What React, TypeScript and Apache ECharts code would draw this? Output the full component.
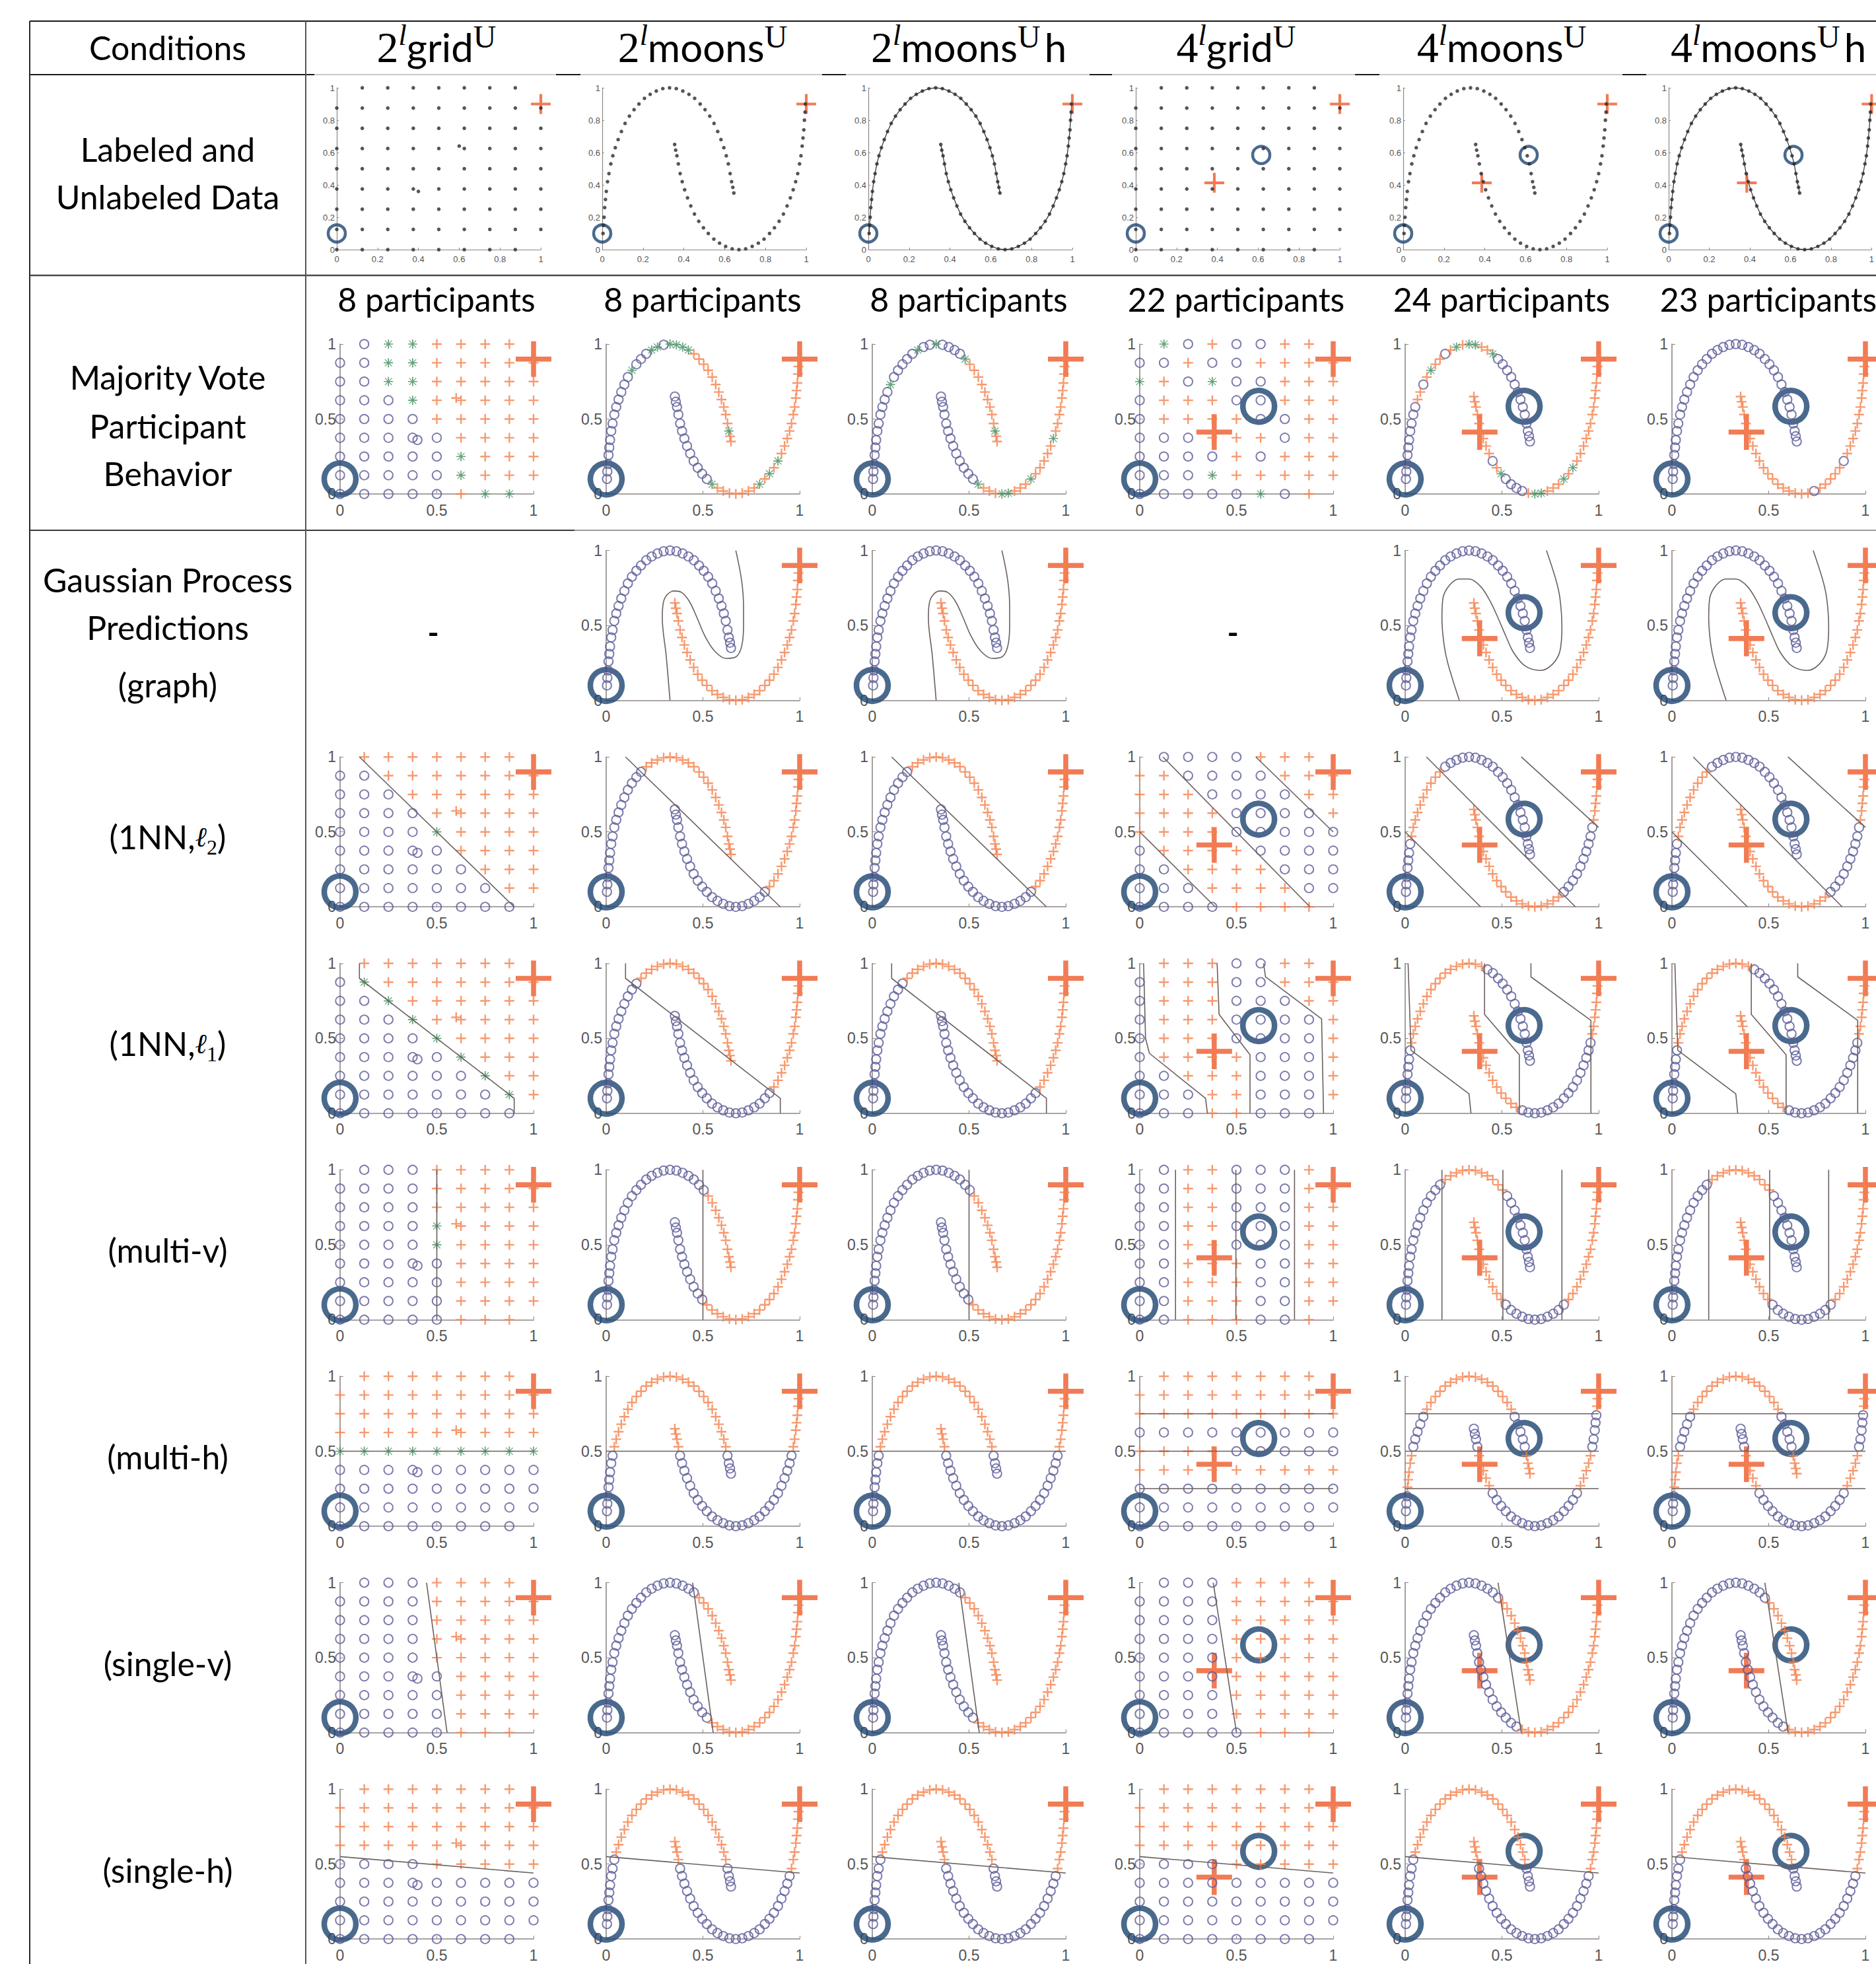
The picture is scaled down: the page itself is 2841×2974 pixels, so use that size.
import React, { useEffect, useRef } from "react";
import * as echarts from "echarts";

type Pt = [number, number];

// ---------------- DATA ----------------
const GRID_TICKS = [0, 0.125, 0.25, 0.375, 0.5, 0.625, 0.75, 0.875, 1];
const GRID_EXTRA_POINTS: Pt[] = [[0.4, 0.36], [0.6, 0.64]];
const GRID_PRESENT = [
  ".ooooooo.", "ooooooooo", "ooooooooo", "ooooooooo", "ooooooooo",
  "ooooooooo", "ooooooooo", "ooooooooo", "oooooooo.",
];

const UPPER_MOON: Pt[] = [
  [0.004, 0.10], [0.006, 0.15], [0.009, 0.20], [0.012, 0.26], [0.016, 0.31],
  [0.02, 0.36], [0.026, 0.42], [0.033, 0.47], [0.042, 0.53], [0.052, 0.58],
  [0.064, 0.63], [0.078, 0.68], [0.094, 0.73], [0.112, 0.78], [0.133, 0.825],
  [0.156, 0.865], [0.18, 0.90], [0.207, 0.935], [0.235, 0.96], [0.265, 0.98],
  [0.297, 0.995], [0.33, 1.0], [0.363, 0.995], [0.395, 0.98], [0.425, 0.96],
  [0.453, 0.935], [0.48, 0.90], [0.504, 0.865], [0.527, 0.825], [0.548, 0.78],
  [0.566, 0.73], [0.582, 0.68], [0.596, 0.63], [0.608, 0.58], [0.618, 0.53],
  [0.627, 0.47], [0.634, 0.42], [0.64, 0.385], [0.645, 0.35],
];
const LOWER_MOON: Pt[] = [
  [0.355, 0.65], [0.36, 0.615], [0.366, 0.58], [0.373, 0.53], [0.382, 0.47],
  [0.392, 0.42], [0.404, 0.37], [0.418, 0.32], [0.434, 0.27], [0.452, 0.22],
  [0.473, 0.175], [0.496, 0.135], [0.52, 0.10], [0.547, 0.065], [0.575, 0.04],
  [0.605, 0.02], [0.637, 0.005], [0.67, 0.0], [0.703, 0.005], [0.735, 0.02],
  [0.765, 0.04], [0.793, 0.065], [0.82, 0.10], [0.844, 0.135], [0.867, 0.175],
  [0.888, 0.22], [0.906, 0.27], [0.922, 0.32], [0.936, 0.37], [0.948, 0.42],
  [0.958, 0.47], [0.967, 0.53], [0.974, 0.58], [0.98, 0.64], [0.984, 0.69],
  [0.988, 0.74], [0.991, 0.80], [0.994, 0.85], [0.996, 0.90],
];

const LABELED_CIRCLES_2: Pt[] = [[0, 0.1]];
const LABELED_PLUSES_2: Pt[] = [[1, 0.9]];
const LABELED_CIRCLES_4: Pt[] = [[0, 0.1], [0.615, 0.585]];
const LABELED_PLUSES_4: Pt[] = [[1, 0.9], [0.385, 0.413]];

const TITLE_NUMS = ["2", "2", "2", "4", "4", "4"];
const TITLE_BASES = ["grid", "moons", "moons", "grid", "moons", "moons"];
const TITLE_SUFFIX = ["", "", "h", "", "", "h"];
const PARTICIPANTS = [8, 8, 8, 22, 24, 23];

// Majority vote labels  (grid rows: y=1 → y=0 ; moons: 39 upper / 39 lower points)
const MV_2GRID = [".o**++++.", "oo**+++++", "oo**+++++", "ooo*+++++", "oooo+++++", "ooooo++++", "ooooo*+++", "ooooo*+++", "ooooo+**."];
const MV_4GRID = [".*o+oo++.", "oo+oo++++", "*+o*oo+++", "o+++oo+++", "o++++oo++", "ooo+++o++", "oooo+o+++", "ooo*+++++", "ooooo*o+."];
const MV_2MOONS_U = "oooooooooo oooo*ooo** o****+++++ ++++++*++";
const MV_2MOONS_L = "oooooooooo ooo*++++++ +*+*+*++++ +++++++++";
const MV_2MOONSH_U = "oooooooooo oo*ooooo*o o*oooo*+++ ++++++*++";
const MV_2MOONSH_L = "oooooooooo ooo*+++**+ ++*+++++*+ +++++++++";
const MV_4MOONS_U = "oooooooooo ++o+*++o+* +**++*oooo ooooooooo";
const MV_4MOONS_L = "+++++++++o +*oooo+**+ ++*+*+++++ +++++++++";
const MV_4MOONSH_U = "oooooooooo oooooooooo oooooooooo ooooooooo";
const MV_4MOONSH_L = "++++++++++ +++++++++o +++++o++++ +++++++++";

// GP predictions
const GRAPH_U = "oooooooooo oooooooooo oooooooooo ooooooooo";
const GRAPH_L = "++++++++++ ++++++++++ ++++++++++ +++++++++";
const L2_2GRID = [".+++++++.", "oo+++++++", "ooo++++++", "oooo+++++", "oooo*++++", "ooooo++++", "oooooo+++", "ooooooo++", "oooooooo."];
const L2_4GRID = [".oooo+++.", "++oooo+++", "+++oooo++", "++++oooo+", "++++ooooo", "o++++oooo", "oo++++ooo", "ooo++++oo", "oooo++++."];
const L2_2MOONS_U = "oooooooooo ooooooo+++ ++++++++++ +++++++++";
const L2_2MOONS_L = "oooooooooo oooooooooo ooo+++++++ +++++++++";
const L2_4MOONS_U = "ooooooo+++ +++++++ooo oooooooooo ooooooooo";
const L2_4MOONS_L = "++++++++++ ++++++++++ ++oooooooo oo+++++++";
const L1_2GRID = [".+++++++.", "o*+++++++", "oo*++++++", "ooo*+++++", "oooo*++++", "ooooo*+++", "oooooo*++", "ooooooo*+", "oooooooo."];
const L1_4GRID = [".+++oo++.", "o+++oo+++", "o+++ooo++", "o+++oooo+", "o+++oooo+", "o++++ooo+", "oo+++ooo+", "ooo++ooo+", "ooo++ooo."];
const L1_2MOONS_U = "oooooooooo oooooo++++ ++++++++++ +++++++++";
const L1_2MOONS_L = "oooooooooo oooooooooo oooo++++++ +++++++++";
const L1_4MOONS_U = "ooooooo+++ ++++++++++ ++++oooooo ooooooooo";
const L1_4MOONS_L = "++++++++++ +++++ooooo oooooooooo o++++++++";
const MULTIV_2GRID = [".ooo++++.", "oooo+++++", "oooo+++++", "oooo*++++", "oooo*++++", "ooooo++++", "ooooo++++", "ooooo++++", "ooooo+++."];
const MULTIV_4GRID = [".o++ooo+.", "oo++ooo++", "oo++ooo++", "oo++ooo++", "oo++ooo++", "oo+++oo++", "oo+++oo++", "oo+++oo++", "oo+++oo+."];
const MULTIV_2MOONS_U = "oooooooooo oooooooooo oooooooo++ +++++++++";
const MULTIV_2MOONS_L = "oooooooooo oo++++++++ ++++++++++ +++++++++";
const MULTIV_4MOONS_U = "oooooooooo ooooooo+++ ++++++++oo ooooooooo";
const MULTIV_4MOONS_L = "++++++++++ ++oooooooo ooo+++++++ +++++++++";
const MULTIH_2GRID = [".+++++++.", "+++++++++", "+++++++++", "+++++++++", "*********", "ooooooooo", "ooooooooo", "ooooooooo", "oooooooo."];
const MULTIH_4GRID = [".+++++++.", "+++++++++", "+++++++++", "ooooooooo", "++++ooooo", "+++++++++", "ooooooooo", "ooooooooo", "oooooooo."];
const MULTIH_2MOONS_U = "oooooooo++ ++++++++++ ++++++++++ +++++oooo";
const MULTIH_2MOONS_L = "++++oooooo oooooooooo oooooooooo o++++++++";
const MULTIH_4MOONS_U = "ooo+++++oo ooo+++++++ ++++++++++ ooooo++++";
const MULTIH_4MOONS_L = "oooo+++++o oooooooooo oooooo++++ +ooooo+++";
const SINGLEV_2GRID = [".ooo++++.", "oooo+++++", "oooo+++++", "oooo+++++", "oooo+++++", "ooooo++++", "ooooo++++", "ooooo++++", "ooooo+++."];
const SINGLEV_4GRID = [".ooo++++.", "oooo+++++", "oooo+++++", "oooo+++++", "oooo+++++", "oooo+++++", "oooo+++++", "oooo+++++", "ooooo+++."];
const SINGLEV_2MOONS_U = "oooooooooo oooooooooo oooooo++++ +++++++++";
const SINGLEV_2MOONS_L = "oooooooooo ooo+++++++ ++++++++++ +++++++++";
const SINGLEV_4MOONS_U = "oooooooooo oooooooooo ooooooo+++ +++++++++";
const SINGLEV_4MOONS_L = "oooooooooo ooooo+++++ ++++++++++ +++++++++";
const SINGLEH_GRID = [".+++++++.", "+++++++++", "+++++++++", "+++++++++", "oooo+++++", "ooooooooo", "ooooooooo", "ooooooooo", "oooooooo."];
const SINGLEH_MOONS_U = "ooooooooo+ ++++++++++ ++++++++++ +++++oooo";
const SINGLEH_MOONS_L = "++++oooooo oooooooooo oooooooooo +++++++++";
const EXTRAS_2GRID = "o+";

// decision boundaries
const GRAPH_2MOONS_B: Pt[][] = [[[0.33, 0], [0.31, 0.3], [0.29, 0.55], [0.295, 0.65], [0.315, 0.705], [0.35, 0.73], [0.39, 0.72], [0.43, 0.66], [0.47, 0.55], [0.51, 0.43], [0.56, 0.33], [0.62, 0.28], [0.67, 0.29], [0.70, 0.36], [0.71, 0.5], [0.71, 0.62], [0.70, 0.8], [0.67, 1.0]]];
const GRAPH_4MOONS_B: Pt[][] = [[[0.28, 0], [0.22, 0.25], [0.2, 0.38], [0.19, 0.55], [0.195, 0.68], [0.23, 0.77], [0.28, 0.81], [0.33, 0.81], [0.39, 0.76], [0.44, 0.66], [0.48, 0.55], [0.52, 0.43], [0.56, 0.32], [0.62, 0.23], [0.70, 0.20], [0.76, 0.24], [0.80, 0.33], [0.81, 0.49], [0.80, 0.68], [0.78, 0.80], [0.73, 1.0]]];
const L2_2_B: Pt[][] = [[[0.1, 1], [0.9, 0]]];
const L2_4GRID_B: Pt[][] = [[[0, 0.5], [0.39, 0]], [[0.12, 1], [0.88, 0]], [[0.6, 1], [1, 0.5]]];
const L2_4MOONS_B: Pt[][] = [[[0, 0.5], [0.39, 0]], [[0.11, 1], [0.88, 0]], [[0.6, 1], [1, 0.53]]];
const L1_2_B: Pt[][] = [[[0.1, 1], [0.1, 0.9], [0.9, 0.1], [0.9, 0]]];
const L1_4GRID_B: Pt[][] = [[[0.02, 1], [0.03, 0.5], [0.05, 0.4], [0.34, 0.1], [0.35, 0]], [[0.4, 1], [0.41, 0.66], [0.57, 0.39], [0.57, 0]], [[0.64, 1], [0.65, 0.91], [0.94, 0.63], [0.95, 0]]];
const L1_4MOONS_B: Pt[][] = [[[0.015, 1], [0.03, 0.42], [0.33, 0.13], [0.34, 0]], [[0.41, 1], [0.41, 0.66], [0.59, 0.39], [0.59, 0]], [[0.65, 1], [0.65, 0.91], [0.96, 0.62], [0.96, 0]]];
const MULTIV_2_B: Pt[][] = [[[0.5, 1], [0.5, 0]]];
const MULTIV_4GRID_B: Pt[][] = [[[0.185, 1], [0.185, 0]], [[0.497, 1], [0.497, 0]], [[0.8, 1], [0.8, 0]]];
const MULTIV_4MOONS_B: Pt[][] = [[[0.19, 1], [0.19, 0]], [[0.505, 1], [0.505, 0]], [[0.81, 1], [0.81, 0]]];
const MULTIH_2_B: Pt[][] = [[[0, 0.5], [1, 0.5]]];
const MULTIH_4_B: Pt[][] = [[[0, 0.75], [1, 0.75]], [[0, 0.5], [1, 0.5]], [[0, 0.25], [1, 0.25]]];
const SINGLEV_2_B: Pt[][] = [[[0.447, 1], [0.553, 0]]];
const SINGLEV_4GRID_B: Pt[][] = [[[0.38, 1], [0.5, 0]]];
const SINGLEV_4MOONS_B: Pt[][] = [[[0.48, 1], [0.6, 0]]];
const SINGLEH_B: Pt[][] = [[[0, 0.55], [1, 0.44]]];

type PanelSpec = { grid?: string[]; extras?: string; upper?: string; lower?: string; lines?: Pt[][]; smooth?: boolean } | null;

const GP_ROWS: PanelSpec[][] = [
  [null,
   { upper: GRAPH_U, lower: GRAPH_L, lines: GRAPH_2MOONS_B, smooth: true },
   { upper: GRAPH_U, lower: GRAPH_L, lines: GRAPH_2MOONS_B, smooth: true },
   null,
   { upper: GRAPH_U, lower: GRAPH_L, lines: GRAPH_4MOONS_B, smooth: true },
   { upper: GRAPH_U, lower: GRAPH_L, lines: GRAPH_4MOONS_B, smooth: true }],
  [{ grid: L2_2GRID, extras: EXTRAS_2GRID, lines: L2_2_B },
   { upper: L2_2MOONS_U, lower: L2_2MOONS_L, lines: L2_2_B },
   { upper: L2_2MOONS_U, lower: L2_2MOONS_L, lines: L2_2_B },
   { grid: L2_4GRID, lines: L2_4GRID_B },
   { upper: L2_4MOONS_U, lower: L2_4MOONS_L, lines: L2_4MOONS_B },
   { upper: L2_4MOONS_U, lower: L2_4MOONS_L, lines: L2_4MOONS_B }],
  [{ grid: L1_2GRID, extras: EXTRAS_2GRID, lines: L1_2_B },
   { upper: L1_2MOONS_U, lower: L1_2MOONS_L, lines: L1_2_B },
   { upper: L1_2MOONS_U, lower: L1_2MOONS_L, lines: L1_2_B },
   { grid: L1_4GRID, lines: L1_4GRID_B },
   { upper: L1_4MOONS_U, lower: L1_4MOONS_L, lines: L1_4MOONS_B },
   { upper: L1_4MOONS_U, lower: L1_4MOONS_L, lines: L1_4MOONS_B }],
  [{ grid: MULTIV_2GRID, extras: EXTRAS_2GRID, lines: MULTIV_2_B },
   { upper: MULTIV_2MOONS_U, lower: MULTIV_2MOONS_L, lines: MULTIV_2_B },
   { upper: MULTIV_2MOONS_U, lower: MULTIV_2MOONS_L, lines: MULTIV_2_B },
   { grid: MULTIV_4GRID, lines: MULTIV_4GRID_B },
   { upper: MULTIV_4MOONS_U, lower: MULTIV_4MOONS_L, lines: MULTIV_4MOONS_B },
   { upper: MULTIV_4MOONS_U, lower: MULTIV_4MOONS_L, lines: MULTIV_4MOONS_B }],
  [{ grid: MULTIH_2GRID, extras: EXTRAS_2GRID, lines: MULTIH_2_B },
   { upper: MULTIH_2MOONS_U, lower: MULTIH_2MOONS_L, lines: MULTIH_2_B },
   { upper: MULTIH_2MOONS_U, lower: MULTIH_2MOONS_L, lines: MULTIH_2_B },
   { grid: MULTIH_4GRID, lines: MULTIH_4_B },
   { upper: MULTIH_4MOONS_U, lower: MULTIH_4MOONS_L, lines: MULTIH_4_B },
   { upper: MULTIH_4MOONS_U, lower: MULTIH_4MOONS_L, lines: MULTIH_4_B }],
  [{ grid: SINGLEV_2GRID, extras: EXTRAS_2GRID, lines: SINGLEV_2_B },
   { upper: SINGLEV_2MOONS_U, lower: SINGLEV_2MOONS_L, lines: SINGLEV_2_B },
   { upper: SINGLEV_2MOONS_U, lower: SINGLEV_2MOONS_L, lines: SINGLEV_2_B },
   { grid: SINGLEV_4GRID, lines: SINGLEV_4GRID_B },
   { upper: SINGLEV_4MOONS_U, lower: SINGLEV_4MOONS_L, lines: SINGLEV_4MOONS_B },
   { upper: SINGLEV_4MOONS_U, lower: SINGLEV_4MOONS_L, lines: SINGLEV_4MOONS_B }],
  [{ grid: SINGLEH_GRID, extras: EXTRAS_2GRID, lines: SINGLEH_B },
   { upper: SINGLEH_MOONS_U, lower: SINGLEH_MOONS_L, lines: SINGLEH_B },
   { upper: SINGLEH_MOONS_U, lower: SINGLEH_MOONS_L, lines: SINGLEH_B },
   { grid: SINGLEH_GRID, lines: SINGLEH_B },
   { upper: SINGLEH_MOONS_U, lower: SINGLEH_MOONS_L, lines: SINGLEH_B },
   { upper: SINGLEH_MOONS_U, lower: SINGLEH_MOONS_L, lines: SINGLEH_B }],
];
const MV_ROW: PanelSpec[] = [
  { grid: MV_2GRID, extras: EXTRAS_2GRID },
  { upper: MV_2MOONS_U, lower: MV_2MOONS_L },
  { upper: MV_2MOONSH_U, lower: MV_2MOONSH_L },
  { grid: MV_4GRID },
  { upper: MV_4MOONS_U, lower: MV_4MOONS_L },
  { upper: MV_4MOONSH_U, lower: MV_4MOONSH_L },
];

// ---------------- STYLE / LAYOUT ----------------
const C_CIRCLE = "#5a5a99";
const C_PLUS = "#f5814c";
const C_STAR = "#3c8a5a";
const C_BIGC = "#1d4570";
const C_BIGP = "#ee5a2b";
const C_LINE = "#6b605f";
const C_AXIS = "#8f8686";
const C_TICK = "#555555";
const SANS = "Lato, 'Open Sans', 'DejaVu Sans', sans-serif";

const COL_X0_LAB = [510, 912, 1315, 1720, 2125, 2527];
const COL_X0 = [515, 918, 1321, 1726, 2128, 2532];
const LAB_TOP = 133, LAB_W = 309, LAB_H = 245;
const PW = 293, PH = 227, ROW1_TOP = 521, ROW_PITCH = 312.6;

const PLUS_PATH = "path://M4.2,0H5.8V4.2H10V5.8H5.8V10H4.2V5.8H0V4.2H4.2Z";
const BIG_PLUS_PATH = "path://M4.3,0H5.7V4.3H10V5.7H5.7V10H4.3V5.7H0V4.3H4.3Z";
const STAR_PATH = "path://M4.4,0H5.6V10H4.4Z M0,4.4H10V5.6H0Z M1.5,0.9L9.1,8.5L8.5,9.1L0.9,1.5Z M8.5,0.9L9.1,1.5L1.5,9.1L0.9,8.5Z";

function clean(s: string) { return s.replace(/\s/g, ""); }

function splitGrid(rows: string[], extras?: string) {
  const o: Pt[] = [], p: Pt[] = [], s: Pt[] = [];
  const put = (ch: string, pt: Pt) => { if (ch === "o") o.push(pt); else if (ch === "+") p.push(pt); else if (ch === "*") s.push(pt); };
  rows.forEach((row, r) => {
    const y = GRID_TICKS[GRID_TICKS.length - 1 - r];
    for (let c = 0; c < row.length; c++) put(row[c], [GRID_TICKS[c], y]);
  });
  if (extras) extras.split("").forEach((ch, i) => put(ch, GRID_EXTRA_POINTS[i]));
  return { o, p, s };
}
function splitMoons(upper: string, lower: string) {
  const o: Pt[] = [], p: Pt[] = [], s: Pt[] = [];
  const put = (ch: string, pt: Pt) => { if (ch === "o") o.push(pt); else if (ch === "+") p.push(pt); else if (ch === "*") s.push(pt); };
  const u = clean(upper), l = clean(lower);
  UPPER_MOON.forEach((pt, i) => put(u[i] || u[u.length - 1], pt));
  LOWER_MOON.forEach((pt, i) => put(l[i] || l[l.length - 1], pt));
  return { o, p, s };
}

function buildOption() {
  const grids: any[] = [], xAxes: any[] = [], yAxes: any[] = [], series: any[] = [], graphics: any[] = [];

  const axis = (gi: number, lab: boolean, dim: "x" | "y") => ({
    gridIndex: gi, type: "value", min: 0, max: 1, interval: lab ? 0.2 : 0.5,
    axisLine: { show: true, onZero: false, lineStyle: { color: C_AXIS, width: lab ? 1.2 : 1.6 } },
    axisTick: { show: true, inside: true, length: lab ? 3 : 5, lineStyle: { color: C_AXIS, width: 1 } },
    axisLabel: {
      show: true, fontSize: lab ? 13 : 23, color: C_TICK, fontFamily: "'Liberation Sans', Arial, sans-serif",
      margin: dim === "x" ? (lab ? 8 : 13) : (lab ? 3 : 6),
    },
    splitLine: { show: false },
  });
  const addPanel = (left: number, top: number, w: number, h: number, lab: boolean) => {
    const gi = grids.length;
    grids.push({ left, top, width: w, height: h, containLabel: false });
    xAxes.push(axis(gi, lab, "x"));
    yAxes.push(axis(gi, lab, "y"));
    return gi;
  };
  const sc = (gi: number, data: Pt[], symbol: string, size: number, itemStyle: any, z: number) => {
    if (!data.length) return;
    series.push({ type: "scatter", xAxisIndex: gi, yAxisIndex: gi, data, symbol, symbolSize: size, itemStyle, z, clip: false, silent: true, animation: false });
  };
  const ln = (gi: number, data: Pt[], color: string, width: number, smooth: boolean, z: number) => {
    series.push({ type: "line", xAxisIndex: gi, yAxisIndex: gi, data, showSymbol: false, symbol: "none", smooth: smooth ? 0.35 : false, lineStyle: { color, width }, z, clip: false, silent: true, animation: false });
  };
  const labeled = (gi: number, col: number, lab: boolean) => {
    const four = col >= 3;
    sc(gi, four ? LABELED_CIRCLES_4 : LABELED_CIRCLES_2, "circle", lab ? 26 : 48,
      { color: "rgba(0,0,0,0)", borderColor: C_BIGC, borderWidth: lab ? 4.5 : 8.5 }, 3);
    sc(gi, four ? LABELED_PLUSES_4 : LABELED_PLUSES_2, BIG_PLUS_PATH, lab ? 30 : 54, { color: C_BIGP }, 3);
  };
  const markers = (gi: number, spec: NonNullable<PanelSpec>) => {
    const parts = spec.grid ? splitGrid(spec.grid, spec.extras) : splitMoons(spec.upper || "", spec.lower || "");
    sc(gi, parts.o, "circle", 13.5, { color: "rgba(0,0,0,0)", borderColor: C_CIRCLE, borderWidth: 1.9 }, 4);
    sc(gi, parts.p, PLUS_PATH, 15, { color: C_PLUS }, 4);
    sc(gi, parts.s, STAR_PATH, 14, { color: C_STAR }, 4);
    (spec.lines || []).forEach((l) => ln(gi, l, C_LINE, 1.6, !!spec.smooth, 5));
  };

  // Row 0: labeled & unlabeled data
  for (let c = 0; c < 6; c++) {
    const gi = addPanel(COL_X0_LAB[c], LAB_TOP, LAB_W, LAB_H, true);
    const isGrid = TITLE_BASES[c] === "grid";
    let dots: Pt[] = [];
    if (isGrid) {
      dots = splitGrid(GRID_PRESENT, c === 0 ? "oo" : undefined).o;
    } else {
      dots = [...UPPER_MOON, ...LOWER_MOON];
      if (TITLE_SUFFIX[c] === "h") {
        ln(gi, UPPER_MOON, "#3a3a3a", 1.3, false, 1);
        ln(gi, LOWER_MOON, "#3a3a3a", 1.3, false, 1);
      }
    }
    labeled(gi, c, true);
    sc(gi, dots, "circle", 5.5, { color: "#2a2a2a" }, 6);
  }
  // Row 1: majority vote
  for (let c = 0; c < 6; c++) {
    const gi = addPanel(COL_X0[c], ROW1_TOP, PW, PH, false);
    labeled(gi, c, false);
    markers(gi, MV_ROW[c] as any);
  }
  // GP rows
  GP_ROWS.forEach((row, k) => {
    const top = ROW1_TOP + ROW_PITCH * (k + 1);
    row.forEach((spec, c) => {
      if (!spec) {
        graphics.push({ type: "text", x: COL_X0[c] + 141, y: top + 124, style: { text: "-", font: `bold 46px ${SANS}`, fill: "#000", align: "center", verticalAlign: "middle" } });
        return;
      }
      const gi = addPanel(COL_X0[c], top, PW, PH, false);
      labeled(gi, c, false);
      markers(gi, spec);
    });
  });

  // ----- table lines -----
  const hline = (x1: number, x2: number, y: number, stroke: string, w: number) =>
    graphics.push({ type: "line", shape: { x1, y1: y, x2, y2: y }, style: { stroke, lineWidth: w }, z: 10 });
  const vline = (x: number, y1: number, y2: number, stroke: string, w: number) =>
    graphics.push({ type: "line", shape: { x1: x, y1, x2: x, y2 }, style: { stroke, lineWidth: w }, z: 10 });
  hline(45, 2841, 32, "#1a1a1a", 2.2);
  hline(45, 476, 113, "#1a1a1a", 2.2);
  hline(476, 2841, 113, "#c9c9c9", 2);
  [[842, 879], [1245, 1281], [1650, 1684], [2052, 2089], [2457, 2493]].forEach(([a, b]) => hline(a, b, 113, "#1a1a1a", 2.2));
  hline(45, 2841, 417, "#4a4a4a", 2.5);
  hline(45, 870, 803, "#3a3a3a", 2.2);
  hline(870, 2841, 803, "#9a9a9a", 2);
  vline(45, 32, 2974, "#2a2a2a", 2);
  vline(463, 32, 2974, "#555", 2);

  // ----- texts -----
  const txt = (x: number, y: number, text: string, size = 50, extra: any = {}) =>
    graphics.push({ type: "text", x, y, z: 11, style: { text, font: `${size}px ${SANS}`, fill: "#000", align: "center", verticalAlign: "middle", ...extra } });
  const LX = 254;
  txt(LX, 72, "Conditions");
  txt(LX, 226, "Labeled and");
  txt(LX, 298, "Unlabeled Data");
  txt(LX, 571, "Majority Vote");
  txt(LX, 645, "Participant");
  txt(LX, 717, "Behavior");
  txt(LX, 878, "Gaussian Process");
  txt(LX, 950, "Predictions");
  txt(LX, 1037, "(graph)");
  const ell = (y: number, sub: string) => graphics.push({
    type: "text", x: LX, y, z: 11,
    style: {
      text: `{a|(1NN,}{l|ℓ}{b|${sub}}{a|)}`, align: "center", verticalAlign: "middle",
      rich: {
        a: { fontFamily: SANS, fontSize: 50, lineHeight: 64, fill: "#000" },
        l: { fontFamily: "'DejaVu Serif', serif", fontStyle: "italic", fontSize: 42, lineHeight: 64, fill: "#000" },
        b: { fontFamily: "'Liberation Serif', serif", fontSize: 32, lineHeight: 34, verticalAlign: "bottom", fill: "#000" },
      },
    },
  });
  ell(1267, "2");
  ell(1580, "1");
  ["(multi-v)", "(multi-h)", "(single-v)", "(single-h)"].forEach((t, i) => txt(LX, 1893 + 313 * i, t));

  // column titles
  for (let c = 0; c < 6; c++) {
    const cx = COL_X0[c] + 146;
    const suffix = TITLE_SUFFIX[c] ? `{h|${TITLE_SUFFIX[c]}}` : "";
    graphics.push({
      type: "text", x: cx, y: 71, z: 11,
      style: {
        text: `{n|${TITLE_NUMS[c]}}{i|l}{s|${TITLE_BASES[c]}}{u|U}${suffix}`, align: "center", verticalAlign: "middle",
        rich: {
          n: { fontFamily: "'Liberation Serif', serif", fontSize: 66, lineHeight: 80, fill: "#000" },
          i: { fontFamily: "'Liberation Serif', serif", fontStyle: "italic", fontSize: 44, lineHeight: 46, verticalAlign: "top", fill: "#000" },
          s: { fontFamily: SANS, fontSize: 60, lineHeight: 80, fill: "#000" },
          u: { fontFamily: "'Liberation Serif', serif", fontSize: 48, lineHeight: 46, verticalAlign: "top", fill: "#000" },
          h: { fontFamily: SANS, fontSize: 60, lineHeight: 80, fill: "#000", padding: [0, 0, 0, 6] },
        },
      },
    });
    txt(cx, 453, `${PARTICIPANTS[c]} participants`);
  }

  return {
    animation: false,
    backgroundColor: "#ffffff",
    grid: grids,
    xAxis: xAxes,
    yAxis: yAxes,
    series,
    graphic: { elements: graphics },
  };
}

export default function App() {
  const ref = useRef<HTMLDivElement>(null);
  useEffect(() => {
    if (!ref.current) return;
    const chart = echarts.init(ref.current, undefined, { renderer: "svg" });
    chart.setOption(buildOption() as any);
    return () => chart.dispose();
  }, []);
  return (
    <div
      ref={ref}
      style={{ position: "absolute", left: 0, top: 0, width: 2841, height: 2974, background: "#fff" }}
    />
  );
}
